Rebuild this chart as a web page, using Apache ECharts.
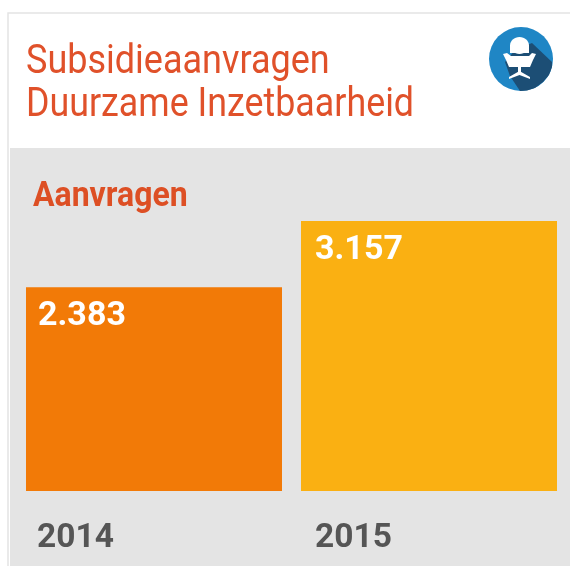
<!DOCTYPE html>
<html><head><meta charset="utf-8">
<style>html,body{margin:0;padding:0;background:#fff}#c{width:570px;height:566px;filter:blur(0.5px)}</style>
<script src="https://cdn.jsdelivr.net/npm/echarts@6/dist/echarts.min.js"></script>
</head><body><div id="c"></div>
<script>
const categories = ['2014', '2015'];
const values = [2383, 3157];
const barColors = ['#f27a07', '#fab012'];
const titleLines = ['Subsidieaanvragen', 'Duurzame Inzetbaarheid'];
const subtitle = 'Aanvragen';
const fmt = v => String(v).replace(/\B(?=(\d{3})+$)/g, '.');
const chart = echarts.init(document.getElementById('c'), null, {renderer: 'canvas'});
const headFont = {fontFamily: 'Roboto', fontWeight: 400, fontSize: 40, fill: '#e0512a', verticalAlign: 'middle'};
const yearFont = {fontFamily: 'Roboto', fontWeight: 700, fontSize: 33.5, color: '#555'};
chart.setOption({
  animation: false,
  backgroundColor: '#fff',
  graphic: [
    {type: 'rect', z: -10, silent: true, shape: {x: 8, y: 13, width: 570, height: 560}, style: {fill: '#fff', stroke: '#e4e4e4', lineWidth: 1.5}},
    {type: 'rect', z: -9, silent: true, shape: {x: 10, y: 148, width: 560, height: 418}, style: {fill: '#e4e4e4'}},
    {type: 'text', z: 5, x: 26, y: 63, scaleX: 0.9, style: Object.assign({text: titleLines[0]}, headFont)},
    {type: 'text', z: 5, x: 26, y: 105.5, scaleX: 0.895, style: Object.assign({text: titleLines[1]}, headFont)},
    {type: 'text', z: 5, x: 33, y: 197, scaleX: 0.915, style: {text: subtitle, fontFamily: 'Roboto', fontWeight: 700, fontSize: 35, fill: '#dd4f24', verticalAlign: 'middle'}},
    {type: 'group', z: 10, silent: true, children: [
      {type: 'circle', z: 10, shape: {cx: 521, cy: 59, r: 32}, style: {fill: '#1f86c5'}},
      {type: 'polygon', z: 11, shape: {points: [[532,43],[552,62],[552,67],[549,75],[543,82],[535,88],[527,90.4],[520,91],[510,76],[505,62],[515,50]]}, style: {fill: '#1c4e75'}},
      {type: 'ellipse', z: 12, shape: {cx: 519.5, cy: 45.5, rx: 9.5, ry: 8.5}, style: {fill: '#fff'}},
      {type: 'rect', z: 12, shape: {x: 510, y: 45, width: 19, height: 8}, style: {fill: '#fff'}},
      {type: 'polygon', z: 12, shape: {points: [[503,54],[507,53],[511,56],[529,56],[532,53],[536,54],[533,60],[530,67],[509,67],[506,60]]}, style: {fill: '#fff'}},
      {type: 'rect', z: 12, shape: {x: 518, y: 67, width: 3, height: 6}, style: {fill: '#fff'}},
      {type: 'polygon', z: 12, shape: {points: [[509,77],[519.5,71],[530,77],[530,79],[519.5,75],[509,79]]}, style: {fill: '#fff'}}
    ]}
  ],
  grid: {left: 16.5, right: 3.5, top: 191.7, bottom: 75},
  xAxis: {
    type: 'category',
    data: categories,
    axisLine: {show: false}, axisTick: {show: false},
    axisLabel: Object.assign({align: 'right', margin: 31,
      formatter: (v, i) => '{y' + i + '|' + v + '}',
      rich: {
        y0: Object.assign({padding: [0, 40, 0, 0]}, yearFont),
        y1: Object.assign({padding: [0, 37, 0, 0]}, yearFont)
      }}, yearFont)
  },
  yAxis: {type: 'value', min: 0, max: 3500, show: false},
  series: [{
    type: 'bar', barWidth: 256,
    data: values.map((v, i) => ({value: v, itemStyle: {color: barColors[i]}, label: {padding: [1, 0, 0, i ? 3 : 1]}})),
    label: {show: true, position: 'insideTopLeft', distance: 11, formatter: p => fmt(p.value),
      fontFamily: 'Roboto', fontWeight: 700, fontSize: 34, color: '#fff'}
  }]
});
</script></body></html>
